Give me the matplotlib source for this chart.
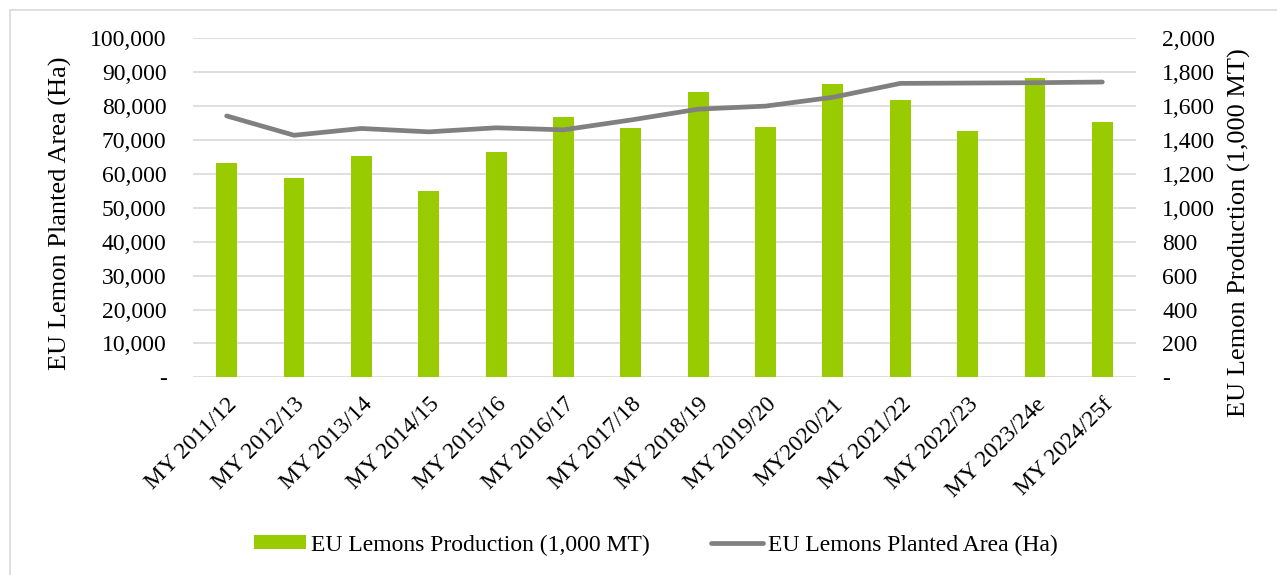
import matplotlib
matplotlib.use("Agg")
import matplotlib.pyplot as plt
from matplotlib.patches import Rectangle, Patch
from matplotlib.lines import Line2D
from matplotlib.ticker import FuncFormatter, MultipleLocator

plt.rcParams['font.family'] = ['Liberation Serif', 'DejaVu Serif']

categories = ["MY 2011/12", "MY 2012/13", "MY 2013/14", "MY 2014/15", "MY 2015/16",
              "MY 2016/17", "MY 2017/18", "MY 2018/19", "MY 2019/20", "MY2020/21",
              "MY 2021/22", "MY 2022/23", "MY 2023/24e", "MY 2024/25f"]
production = [1262, 1176, 1306, 1099, 1329, 1534, 1471, 1683, 1478, 1730, 1634, 1455, 1764, 1508]
planted_area = [77100, 71400, 73400, 72400, 73600, 73000, 75900, 79100, 80000, 82600,
                86700, 86800, 86900, 87100]

W, H = 1277, 575
fig = plt.figure(figsize=(W / 100, H / 100), dpi=100)
ax = fig.add_axes([193 / W, 1 - 377.3 / H, (1136 - 193) / W, (377.3 - 38.3) / H])
ax2 = ax.twinx()

x = list(range(len(categories)))

# bars on secondary axis (right), drawn below
ax2.bar(x, production, width=0.31, color='#99CC00', zorder=2)
ax2.set_ylim(0, 2000)
ax2.yaxis.set_major_locator(MultipleLocator(200))
ax2.grid(axis='y', color='#D9D9D9', linewidth=1.2, zorder=0)
ax2.set_axisbelow(True)

# line on primary axis, drawn above
ax.plot(x, planted_area, color='#808080', linewidth=3.4, solid_capstyle='round',
        solid_joinstyle='round', zorder=3)
ax.set_ylim(0, 100000)
ax.yaxis.set_major_locator(MultipleLocator(10000))
ax.set_zorder(ax2.get_zorder() + 1)
ax.patch.set_visible(False)
ax.set_xlim(-0.5, len(categories) - 0.5)

def fmt(v, pos):
    return '-' if v == 0 else f"{int(round(v)):,}"

ax.yaxis.set_major_formatter(FuncFormatter(fmt))
ax2.yaxis.set_major_formatter(FuncFormatter(fmt))

for a in (ax, ax2):
    for s in a.spines.values():
        s.set_visible(False)
    a.tick_params(axis='both', length=0, labelsize=17)

ax.tick_params(axis='y', pad=19)
ax2.tick_params(axis='y', pad=19)
for lab in ax2.get_yticklabels():
    lab.set_ha('left')

ax.set_xticks(x)
ax.set_xticklabels(categories, rotation=45, ha='right', rotation_mode='anchor', fontsize=17)
ax.tick_params(axis='x', pad=12)

ax.set_ylabel("EU Lemon Planted Area (Ha)", fontsize=19)
ax2.set_ylabel("EU Lemon Production (1,000 MT)", fontsize=19)
ax.yaxis.set_label_coords(-0.1283, 0.4847)
ax2.yaxis.set_label_coords(1.0976, 0.426)

handles = [Patch(facecolor='#99CC00', edgecolor='none'),
           Line2D([0], [0], color='#808080', linewidth=3.4, solid_capstyle='round')]
labels = ["EU Lemons Production (1,000 MT)", "EU Lemons Planted Area (Ha)"]
fig.legend(handles, labels, loc='center', bbox_to_anchor=(656 / W, 1 - 545 / H), ncol=2,
           frameon=False, fontsize=17, handlelength=2.2, handletextpad=0.2,
           columnspacing=2.6, handleheight=0.5)

fig.add_artist(Rectangle((10 / W, -0.1), 2, 1.1 - 9.5 / H, transform=fig.transFigure,
                         fill=False, edgecolor='#D9D9D9', linewidth=1.2))

fig.savefig("out.png", dpi=100)
